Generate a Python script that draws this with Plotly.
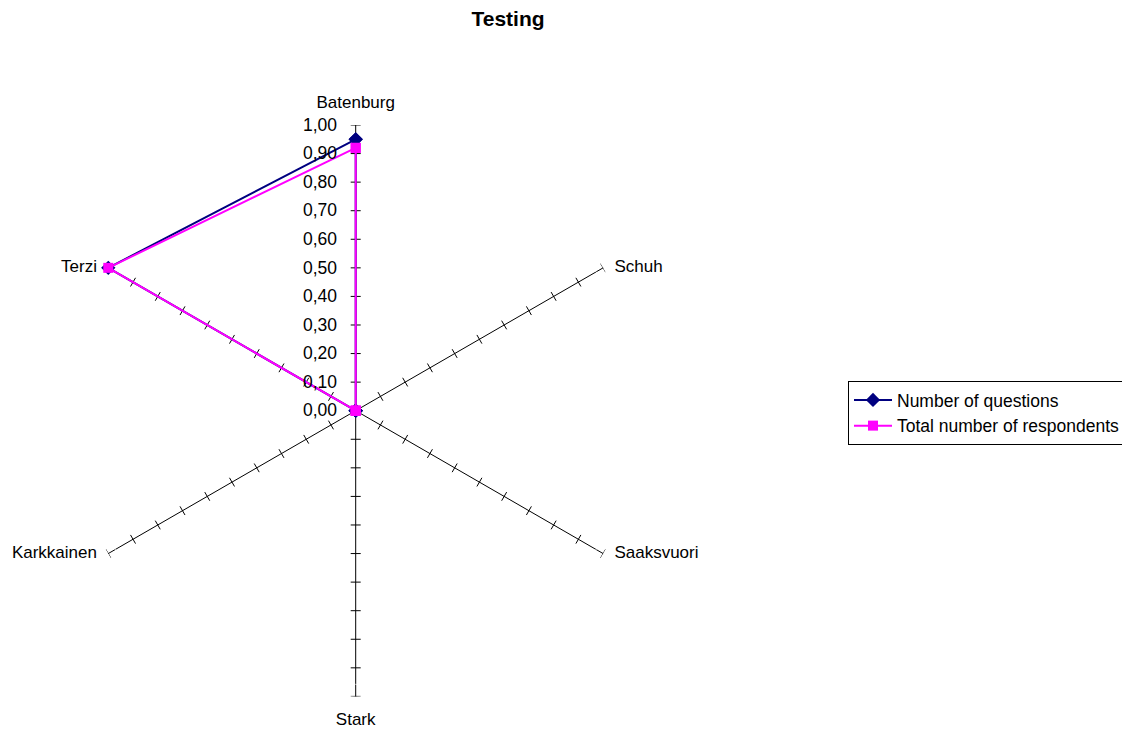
import math
import plotly.graph_objects as go

categories = ["Batenburg", "Schuh", "Saaksvuori", "Stark", "Karkkainen", "Terzi"]
questions = [0.95, 0.0, 0.0, 0.0, 0.0, 1.0]
respondents = [0.92, 0.0, 0.0, 0.0, 0.0, 1.0]
radial_ticks = [round(i * 0.1, 2) for i in range(11)]

W, H = 1130, 729
OFF = 8  # page body margin
cx, cy, R = 355.7 - OFF, 410.7 - OFF, 285.7

angles = [i * 360 / len(categories) for i in range(len(categories))]

# cross tick marks on every spoke
d = 5.0 / R
tr, tt = [], []
for a in angles:
    for v in radial_ticks[1:]:
        rr = math.sqrt(v * v + d * d)
        da = math.degrees(math.atan(d / v))
        tr += [rr, rr, None]
        tt += [a - da, a + da, None]

# category label placement (text around the spoke ends)
lab_pos, lab_size = [], []
for a in angles:
    s = math.sin(math.radians(a))
    c = math.cos(math.radians(a))
    if abs(s) < 0.1:
        if c > 0:
            lab_pos.append("top center"); lab_size.append(18.6)
        else:
            lab_pos.append("bottom center"); lab_size.append(24.2)
    elif s > 0:
        lab_pos.append("middle right"); lab_size.append(16.5)
    else:
        lab_pos.append("middle left"); lab_size.append(16.5)

fig = go.Figure()
fig.add_trace(go.Scatterpolar(r=tr, theta=tt, mode="lines",
                              line=dict(color="black", width=1),
                              hoverinfo="skip", showlegend=False))
fig.add_trace(go.Scatterpolar(r=[1.0] * len(categories), theta=angles,
                              mode="markers+text", text=categories,
                              textposition=lab_pos,
                              textfont=dict(size=17, color="black"),
                              marker=dict(size=lab_size, color="rgba(0,0,0,0)"),
                              hoverinfo="skip", showlegend=False))
fig.add_trace(go.Scatterpolar(r=questions + questions[:1], theta=angles + angles[:1],
                              mode="lines+markers", name="Number of questions",
                              line=dict(color="#000080", width=2),
                              marker=dict(symbol="diamond", size=11, color="#000080")))
fig.add_trace(go.Scatterpolar(r=respondents + respondents[:1], theta=angles + angles[:1],
                              mode="lines+markers", name="Total number of respondents",
                              line=dict(color="#FF00FF", width=2),
                              marker=dict(symbol="square", size=10, color="#FF00FF")))

fig.update_layout(
    width=W, height=H,
    margin=dict(l=0, r=0, t=0, b=0),
    paper_bgcolor="white",
    separators=",.",
    font=dict(family="Liberation Sans, Arial", size=17, color="black"),
    title=dict(text="<b>Testing</b>", x=(508 - OFF) / W, xanchor="center",
               y=1 - (18.5 - OFF) / H, yanchor="middle", font=dict(size=21)),
    polar=dict(
        domain=dict(x=[(cx - R) / W, (cx + R) / W], y=[1 - (cy + R) / H, 1 - (cy - R) / H]),
        bgcolor="white",
        radialaxis=dict(range=[0, 1], angle=90, side="counterclockwise",
                        tickvals=radial_ticks, tickformat=".2f",
                        ticks="outside", ticklen=12, tickcolor="rgba(0,0,0,0)",
                        showgrid=False, showline=False, tickangle=90,
                        tickfont=dict(size=17.5)),
        angularaxis=dict(thetaunit="degrees", rotation=90, direction="clockwise",
                         tickvals=angles, showticklabels=False, ticks="",
                         showgrid=True, gridcolor="black", gridwidth=1,
                         showline=False),
    ),
    legend=dict(x=(848 - OFF) / W, y=1 - (381 - OFF) / H, xanchor="left", yanchor="top",
                bordercolor="black", borderwidth=1, bgcolor="white",
                itemwidth=38, font=dict(size=17.5), tracegroupgap=0),
)

fig.write_html("out.html")
